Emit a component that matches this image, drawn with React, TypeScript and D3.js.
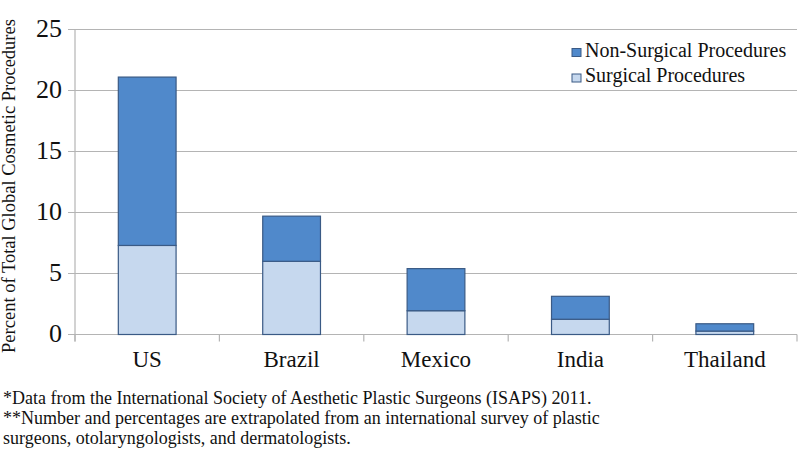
import React, { useEffect } from "react";
import * as d3 from "d3";

const categories = ["US", "Brazil", "Mexico", "India", "Thailand"];
const surgical = [7.3, 6.0, 1.95, 1.25, 0.28];
const nonSurgical = [13.8, 3.7, 3.45, 1.88, 0.6];
const seriesNames = ["Non-Surgical Procedures", "Surgical Procedures"];
const yTicks = [0, 5, 10, 15, 20, 25];
const footnotes = [
  "*Data from the International Society of Aesthetic Plastic Surgeons (ISAPS) 2011.",
  "**Number and percentages are extrapolated from an international survey of plastic",
  "surgeons, otolaryngologists, and dermatologists.",
];

const W = 800;
const H = 452;
const left = 75;
const right = 797;
const top = 29.5;
const bottom = 334.5;
const font = "Liberation Serif";
const darkFill = "#5089cb";
const lightFill = "#c6d8ee";
const stroke = "#3a5a85";
const gridColor = "#b4b4b4";

export default function App() {
  useEffect(() => {
    document.body.style.margin = "0";
  }, []);
  const x = d3.scaleBand<string>().domain(categories).range([left, right]).paddingInner(0.6).paddingOuter(0.3);
  const band = d3.scaleBand<string>().domain(categories).range([left, right]);
  const y = d3.scaleLinear().domain([0, 25]).range([bottom, top]);

  const rows = categories.map((c, i) => ({ c, s: surgical[i], n: nonSurgical[i] }));
  const stack = d3.stack<any>().keys(["s", "n"])(rows as any);

  const boundaries = [...categories.map((c) => band(c) as number), right];
  const textStyle = { fontFamily: font };

  return (
    <svg width={W} height={H} style={{ display: "block", background: "#fff", position: "absolute", left: 0, top: 0 }}>
      {yTicks.map((t) => (
        <g key={t}>
          <line x1={68} x2={right} y1={y(t)} y2={y(t)} stroke={gridColor} strokeWidth={1.2} />
          <text x={62} y={y(t) + 7} textAnchor="end" style={textStyle} fontSize={26} fill="#111">
            {t}
          </text>
        </g>
      ))}
      <line x1={left} x2={left} y1={top} y2={bottom + 7} stroke={gridColor} strokeWidth={1.2} />
      {boundaries.map((b, i) => (
        <line key={i} x1={b} x2={b} y1={bottom} y2={bottom + 7} stroke={gridColor} strokeWidth={1.2} />
      ))}
      {stack.map((layer, li) =>
        layer.map((d, i) => (
          <rect
            key={li + "-" + i}
            x={x(categories[i])}
            width={x.bandwidth()}
            y={y(d[1])}
            height={y(d[0]) - y(d[1])}
            fill={li === 0 ? lightFill : darkFill}
            stroke={stroke}
            strokeWidth={1.2}
          />
        ))
      )}
      {categories.map((c) => (
        <text
          key={c}
          x={(band(c) as number) + band.bandwidth() / 2}
          y={367}
          textAnchor="middle"
          style={textStyle}
          fontSize={23}
          fill="#111"
        >
          {c}
        </text>
      ))}
      <text
        transform={`translate(15,186) rotate(-90)`}
        textAnchor="middle"
        style={textStyle}
        fontSize={18.5}
        fill="#111"
      >
        Percent of Total Global Cosmetic Procedures
      </text>
      {seriesNames.map((s, i) => (
        <g key={s} transform={`translate(572,${48.5 + i * 25.5})`}>
          <rect width={9} height={8} fill={i === 0 ? darkFill : lightFill} stroke={stroke} strokeWidth={1} />
          <text x={13} y={8.2} style={textStyle} fontSize={20} fill="#111">
            {s}
          </text>
        </g>
      ))}
      {footnotes.map((f, i) => (
        <text key={i} x={3} y={404 + i * 20} style={textStyle} fontSize={18} fill="#111">
          {f}
        </text>
      ))}
    </svg>
  );
}
